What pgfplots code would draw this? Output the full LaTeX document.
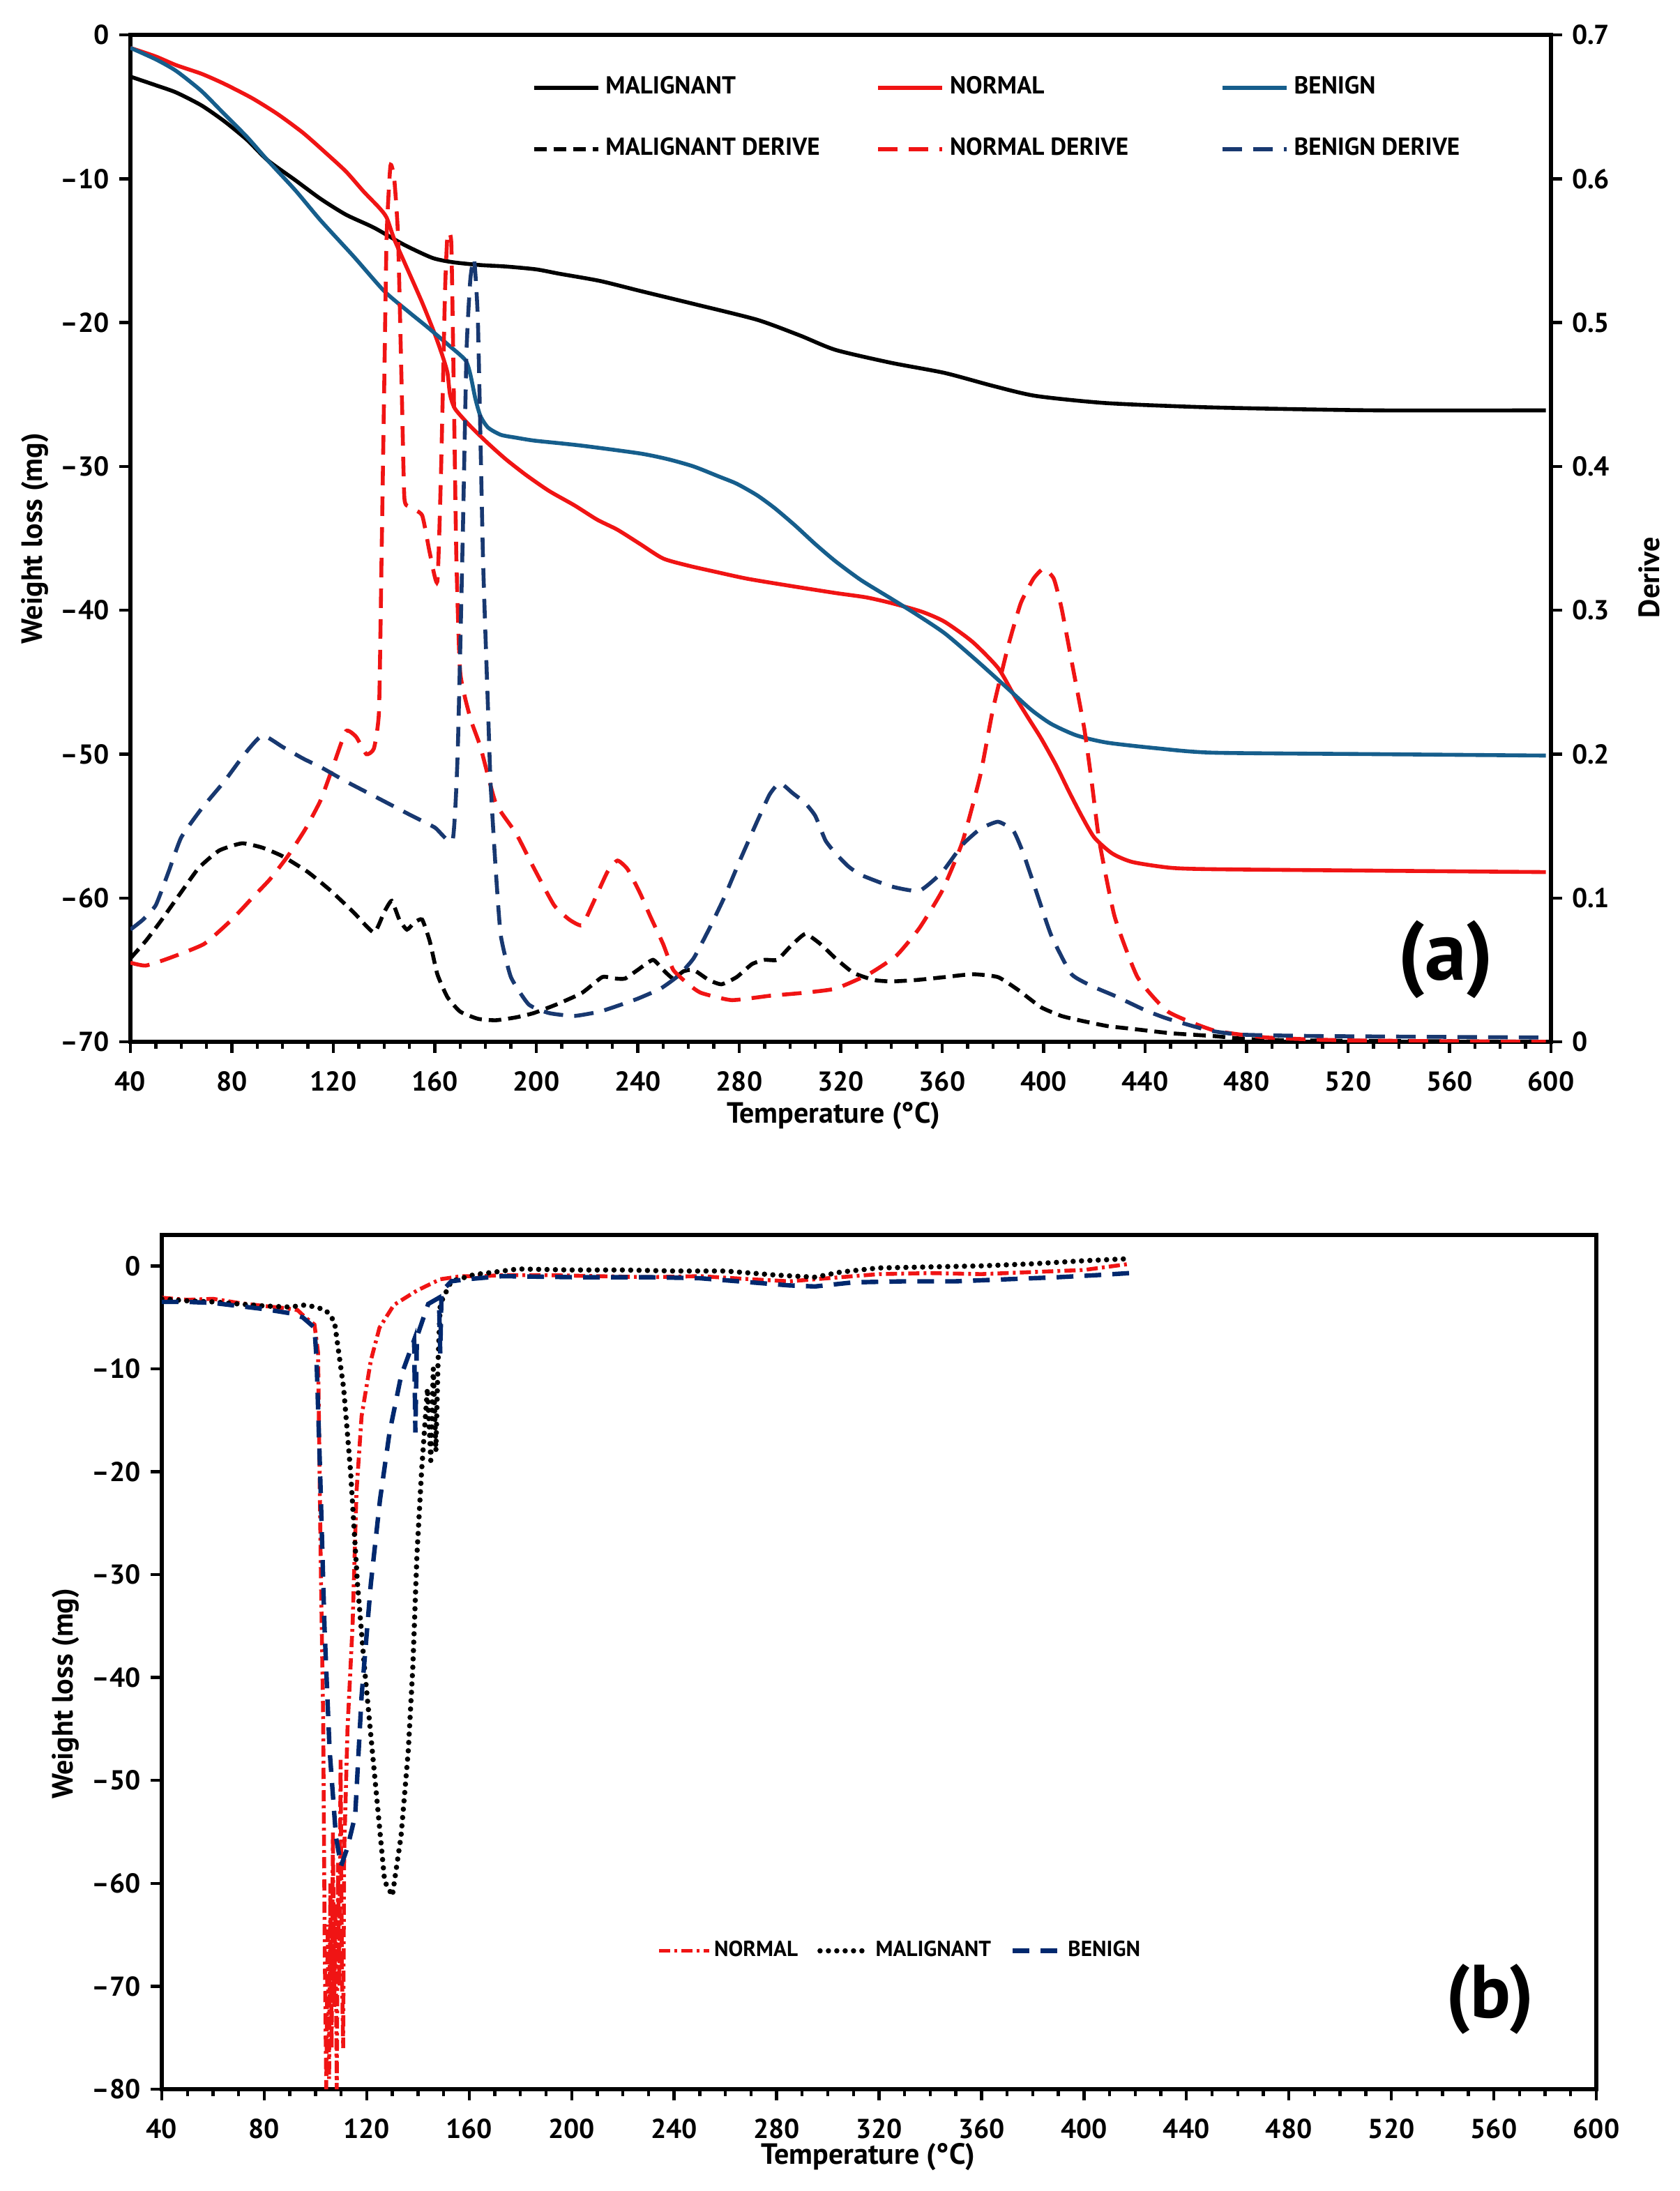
\documentclass[border=0pt]{standalone}
\usepackage{fontspec}
\setmainfont{PT Sans}
\usepackage{pgfplots}
\pgfplotsset{compat=1.18}
\usepackage{pgfplotstable}

\definecolor{benign}{RGB}{22,94,140}
\definecolor{benignd}{RGB}{24,56,112}
\definecolor{navyb}{RGB}{0,40,110}
\definecolor{nred}{RGB}{240,20,20}

% ---- panel (a): weight loss ----
\pgfplotstableread{
T W
40 -2.9
50 -3.5
58 -4.0
68 -4.9
77 -6.0
86 -7.3
94 -8.7
105 -10.1
115 -11.4
125 -12.5
136 -13.4
148 -14.6
159 -15.5
167 -15.8
178 -16.0
188 -16.1
200 -16.3
209 -16.6
225 -17.1
241 -17.8
262 -18.7
287 -19.8
304 -20.9
318 -21.9
340 -22.8
361 -23.5
380 -24.4
397 -25.1
425 -25.6
467 -25.9
530 -26.1
598 -26.1
}\malW

\pgfplotstableread{
T W
40 -0.9
50 -1.5
58 -2.1
68 -2.7
77 -3.4
88 -4.4
98 -5.5
108 -6.8
117 -8.2
125 -9.5
132 -10.9
138 -12.0
141 -12.7
144 -14.2
148 -15.8
155 -18.6
160 -20.8
163 -22.3
165 -23.5
166 -25.0
168 -26.0
174 -27.2
181 -28.4
188 -29.5
196 -30.6
205 -31.7
215 -32.7
224 -33.7
232 -34.4
241 -35.4
250 -36.4
260 -36.9
270 -37.3
283 -37.8
300 -38.3
318 -38.8
330 -39.1
340 -39.5
352 -40.1
361 -40.8
372 -42.2
382 -44.0
388 -45.8
394 -47.5
399 -48.9
405 -50.8
410 -52.6
415 -54.3
420 -55.8
427 -56.9
435 -57.5
450 -57.9
467 -58.0
530 -58.1
598 -58.2
}\norW

\pgfplotstableread{
T W
40 -0.9
50 -1.7
58 -2.5
68 -3.9
77 -5.5
86 -7.1
94 -8.7
105 -10.8
115 -12.9
128 -15.4
140 -17.8
150 -19.3
157 -20.3
165 -21.5
172 -22.6
174 -23.6
176 -25.3
178 -26.5
181 -27.3
186 -27.8
192 -28.0
199 -28.2
210 -28.4
220 -28.6
241 -29.1
252 -29.5
262 -30.0
272 -30.7
279 -31.2
287 -32.0
294 -32.9
302 -34.1
310 -35.4
318 -36.6
328 -37.9
340 -39.2
350 -40.3
361 -41.6
373 -43.4
385 -45.3
395 -46.9
403 -47.9
413 -48.7
425 -49.2
445 -49.6
467 -49.9
530 -50.0
598 -50.1
}\benW

% ---- panel (a): derive ----
\pgfplotstableread{
T D
40 0.058
46 0.070
52 0.084
60 0.104
67 0.121
75 0.133
84 0.138
92 0.135
100 0.129
110 0.118
119 0.105
128 0.090
136 0.076
140 0.090
143 0.098
146 0.085
149 0.078
152 0.083
155 0.085
158 0.070
161 0.047
165 0.031
170 0.021
177 0.016
184 0.015
192 0.017
199 0.020
208 0.026
218 0.034
226 0.045
231 0.044
235 0.044
240 0.050
246 0.057
250 0.050
254 0.044
258 0.049
262 0.050
268 0.043
273 0.040
279 0.045
285 0.054
290 0.057
295 0.057
300 0.066
306 0.075
312 0.068
318 0.058
325 0.048
333 0.043
340 0.042
350 0.043
361 0.045
372 0.047
382 0.045
390 0.036
399 0.024
407 0.018
414 0.015
425 0.011
435 0.009
450 0.006
467 0.004
480 0.002
500 0.001
598 0.000
}\malD

\pgfplotstableread{
T D
40 0.055
46 0.053
55 0.058
69 0.068
80 0.085
88 0.100
95 0.113
102 0.129
109 0.148
115 0.168
120 0.192
125 0.216
129 0.212
133 0.200
136 0.204
138 0.230
139 0.336
140 0.450
141 0.560
142.5 0.609
144 0.600
145.5 0.560
147 0.450
148 0.378
150 0.372
155 0.366
158 0.340
161 0.320
162.5 0.400
164 0.520
165 0.561
166.5 0.555
167.5 0.450
168.5 0.336
170 0.257
174 0.225
178 0.205
184 0.166
192 0.145
199 0.121
207 0.095
213 0.085
218 0.081
222 0.095
228 0.118
232 0.126
236 0.120
241 0.103
245 0.087
250 0.068
254 0.050
260 0.040
265 0.034
277 0.029
292 0.032
305 0.034
318 0.037
331 0.047
342 0.060
351 0.079
360 0.105
368 0.139
375 0.185
380 0.231
386 0.275
391 0.305
396 0.322
400 0.329
404 0.322
407 0.302
411 0.265
416 0.218
419 0.180
422 0.139
428 0.087
437 0.045
449 0.021
467 0.008
488 0.003
520 0.001
598 0.000
}\norD

\pgfplotstableread{
T D
40 0.078
45 0.085
50 0.095
55 0.118
60 0.142
68 0.162
77 0.181
85 0.200
92 0.213
100 0.205
108 0.197
116 0.190
125 0.181
137 0.170
150 0.158
160 0.149
167 0.140
169 0.200
171 0.350
172.5 0.480
174 0.530
175.5 0.544
177 0.500
179 0.336
181 0.230
182 0.179
184 0.120
186 0.074
190 0.045
197 0.026
205 0.020
215 0.018
225 0.021
232 0.025
240 0.030
249 0.037
256 0.046
262 0.058
268 0.078
274 0.100
280 0.125
287 0.153
292 0.172
296 0.180
301 0.173
306 0.166
310 0.157
314 0.140
318 0.131
323 0.122
328 0.116
340 0.108
351 0.105
360 0.118
368 0.137
375 0.148
382 0.153
388 0.147
392 0.131
397 0.105
403 0.074
411 0.047
420 0.038
428 0.032
440 0.022
449 0.016
465 0.008
478 0.005
509 0.004
598 0.003
}\benD

% ---- panel (b) ----
\pgfplotstableread{
T W
40 -3.1
50 -3.3
60 -3.2
70 -3.6
80 -3.9
88 -4.1
93 -4.3
96 -5.0
99.6 -5.7
101 -8.4
102 -28
103 -44
103.6 -66
104.2 -80
104.8 -64
105.3 -79
105.8 -60
106.3 -76
106.8 -55
107.3 -72
107.8 -62
108.3 -80
108.8 -58
109.3 -70
109.8 -48
110.3 -68
110.8 -76
111.2 -57
112.5 -45
114.5 -34.8
116 -22
118 -14.6
121.6 -9.2
125 -6.0
130.6 -3.8
139.6 -2.4
148.7 -1.3
157 -1.0
165 -1.0
173 -0.9
190 -0.9
210 -1.0
230 -1.1
250 -1.0
270 -1.3
285 -1.5
300 -1.2
320 -0.8
340 -0.7
360 -0.8
380 -0.6
400 -0.4
418 0.2
}\norB

\pgfplotstableread{
T W
40 -3.2
50 -3.4
60 -3.5
70 -3.7
80 -3.9
90 -4.0
96 -3.8
100 -4.0
104 -4.3
107.4 -5.4
111 -11.9
113.7 -20.0
116.4 -30.9
119.1 -39.0
121.6 -45.6
124.3 -52.7
127 -59.8
130 -61.2
133.4 -55.4
136.2 -47.2
138 -39.0
139.6 -28.1
141.4 -20.0
143.7 -11.9
145 -18.9
146 -10
147 -18.0
147.8 -9.7
148.7 -3.7
153 -1.5
162 -0.85
170 -0.6
179 -0.3
200 -0.4
220 -0.4
240 -0.5
260 -0.5
280 -0.9
295 -1.1
305 -0.6
320 -0.2
340 -0.1
360 0.0
380 0.2
400 0.5
418 0.7
}\malB

\pgfplotstableread{
T W
40 -3.5
50 -3.5
60 -3.6
70 -3.9
80 -4.2
90 -4.6
95 -5.0
99.6 -6.0
100.4 -9.0
101.8 -20
103.5 -35
105.5 -47
108 -55.5
110 -58.3
112.5 -56.5
115.5 -53.4
118 -41.8
121.6 -30.9
125.2 -22.7
128.9 -16.2
133.4 -10.7
138.5 -7.2
139 -16.2
139.6 -6.9
144 -3.7
148.2 -3.1
148.7 -8.5
149.2 -2.5
153 -1.5
159 -1.3
173 -1.0
200 -1.1
230 -1.1
250 -1.2
270 -1.6
285 -1.9
295 -2.0
310 -1.6
330 -1.5
350 -1.5
370 -1.3
390 -1.1
405 -0.9
418 -0.7
}\benB

\pgfplotsset{
  tgastyle/.style={
    scale only axis,
    xmin=40, xmax=600,
    xtick={40,80,...,600},
    xticklabels={40,80,120,160,200,240,280,320,360,400,440,480,520,560,600},
    minor x tick num=3,
    tick align=outside,
    major tick length=4pt, minor tick length=2.5pt,
    every tick/.style={black, line width=1.1pt},
    tick label style={font=\bfseries\fontsize{9.8}{10}\selectfont},
  },
}

\begin{document}
\begin{tikzpicture}
\useasboundingbox (0,0) rectangle (602.25pt,-785.5pt);

% ================= (a) weight loss, left axis =================
\begin{axis}[tgastyle,
  at={(46.75pt,-373.5pt)}, anchor=south west,
  width=509.25pt, height=361pt,
  ymin=-70, ymax=0,
  ytick={-70,-60,...,0},
  yticklabels={--70,--60,--50,--40,--30,--20,--10,0},
  xtick pos=bottom, ytick pos=left,
  axis line style={line width=1.5pt},
  xticklabel style={yshift=-3pt},
  xlabel={Temperature (°C)},
  ylabel={Weight loss (mg)},
  every axis x label/.style={at={(rel axis cs:0.495,0)}, yshift=-26.5pt, anchor=center,
    font=\bfseries\fontsize{10.5}{12}\selectfont},
  every axis y label/.style={at={(rel axis cs:0,0.5)}, xshift=-34.25pt, rotate=90, anchor=center,
    font=\bfseries\fontsize{10.5}{12}\selectfont},
]
\addplot[black, line width=1.4pt, smooth, tension=0.4] table[x=T,y=W]{\malW};
\addplot[nred, line width=1.4pt, smooth, tension=0.4] table[x=T,y=W]{\norW};
\addplot[benign, line width=1.4pt, smooth, tension=0.4] table[x=T,y=W]{\benW};
\node[font=\bfseries\fontsize{30}{30}\selectfont] at (rel axis cs:0.926,0.082) {(a)};
\end{axis}

% ================= (a) derive, right axis =================
\begin{axis}[tgastyle,
  at={(46.75pt,-373.5pt)}, anchor=south west,
  width=509.25pt, height=361pt,
  ymin=0, ymax=0.7,
  ytick={0,0.1,...,0.7},
  yticklabels={0,0.1,0.2,0.3,0.4,0.5,0.6,0.7},
  axis x line=none, axis y line*=right,
  ytick pos=right,
  axis line style={line width=1.5pt},
  ylabel={Derive},
  every axis y label/.style={at={(rel axis cs:1,0.461)}, xshift=35.25pt, rotate=90, anchor=center,
    font=\bfseries\fontsize{10.5}{12}\selectfont},
  legend columns=3,
  legend image code/.code={\draw[#1] (0pt,0pt) -- (23pt,0pt);},
  legend style={at={(0.2823,0.9584)}, anchor=north west, draw=none, fill=none,
    inner sep=0pt,
    font=\bfseries\fontsize{8.8}{9}\selectfont,
    nodes={inner xsep=2pt, inner ysep=0pt, text height=6pt, text depth=1.5pt},
    row sep=14.5pt,
    /tikz/every odd column/.append style={column sep=0pt},
    /tikz/every even column/.append style={column sep=0pt}},
]
\addlegendimage{black, line width=1.4pt}
\addlegendentry{\makebox[95pt][l]{MALIGNANT}}
\addlegendimage{nred, line width=1.4pt}
\addlegendentry{\makebox[95pt][l]{NORMAL}}
\addlegendimage{benign, line width=1.4pt}
\addlegendentry{\makebox[70pt][l]{BENIGN}}
\addplot[black, line width=1.4pt, dash pattern=on 4.5pt off 2.5pt, smooth, tension=0.3] table[x=T,y=D]{\malD};
\addlegendentry{\makebox[95pt][l]{MALIGNANT DERIVE}}
\addplot[nred, line width=1.4pt, dash pattern=on 7pt off 4pt, smooth, tension=0.3] table[x=T,y=D]{\norD};
\addlegendentry{\makebox[95pt][l]{NORMAL DERIVE}}
\addplot[benignd, line width=1.4pt, dash pattern=on 7pt off 4pt, smooth, tension=0.3] table[x=T,y=D]{\benD};
\addlegendentry{\makebox[70pt][l]{BENIGN DERIVE}}
\end{axis}

% ================= (b) =================
\begin{axis}[tgastyle,
  at={(58pt,-749pt)}, anchor=south west,
  width=514.25pt, height=306.25pt,
  ymin=-80, ymax=3,
  ytick={-80,-70,...,0},
  yticklabels={--80,--70,--60,--50,--40,--30,--20,--10,0},
  xtick pos=bottom, ytick pos=left,
  axis line style={line width=1.3pt},
  xticklabel style={yshift=-3pt},
  xlabel={Temperature (°C)},
  ylabel={Weight loss (mg)},
  every axis x label/.style={at={(rel axis cs:0.4925,0)}, yshift=-24.25pt, anchor=center,
    font=\bfseries\fontsize{10.5}{12}\selectfont},
  every axis y label/.style={at={(rel axis cs:0,0.463)}, xshift=-34.5pt, rotate=90, anchor=center,
    font=\bfseries\fontsize{10.5}{12}\selectfont},
  legend columns=3,
  legend image code/.code={\draw[#1] (0pt,0pt) -- (18pt,0pt);},
  legend style={at={(0.345,0.162)}, anchor=west, draw=none, fill=none,
    inner sep=0pt,
    font=\bfseries\fontsize{7.8}{8}\selectfont,
    nodes={inner xsep=1pt, inner ysep=0pt},
    /tikz/every even column/.append style={column sep=6pt}},
]
\addplot[nred, line width=1.4pt, dash pattern=on 4pt off 1.5pt on 1pt off 1.5pt] table[x=T,y=W]{\norB};
\addlegendentry{NORMAL}
\addplot[black, line width=1.9pt, line cap=round, dash pattern=on 0pt off 3pt] table[x=T,y=W]{\malB};
\addlegendentry{MALIGNANT}
\addplot[navyb, line width=1.6pt, dash pattern=on 6pt off 4pt] table[x=T,y=W]{\benB};
\addlegendentry{BENIGN}
\node[font=\bfseries\fontsize{27}{27}\selectfont] at (rel axis cs:0.926,0.105) {(b)};
\end{axis}
\end{tikzpicture}
\end{document}
